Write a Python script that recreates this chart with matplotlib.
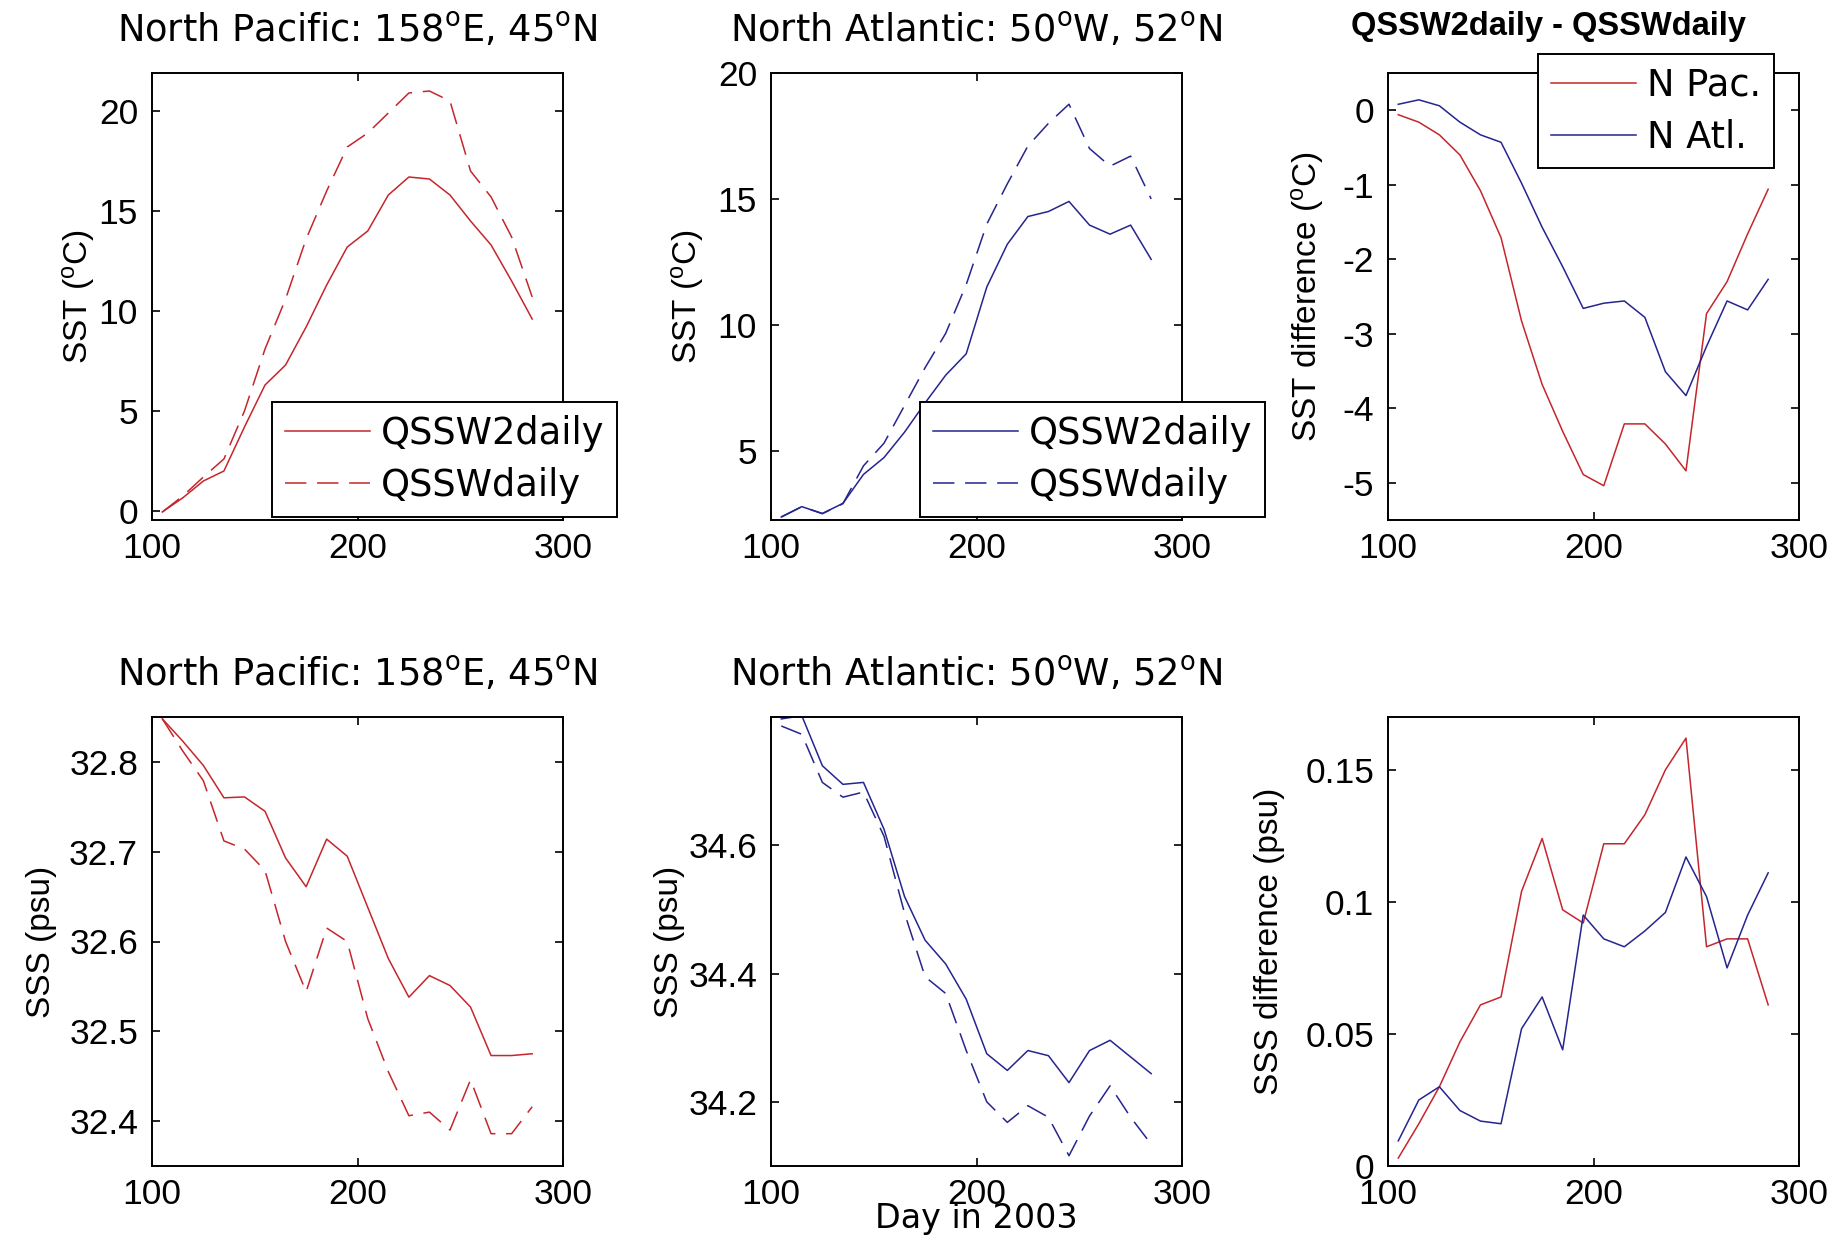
#this program redraws the QSSW2daily / QSSWdaily comparison panels
import matplotlib
matplotlib.use('Agg')
import matplotlib.pyplot as plt

plt.rcParams['font.family'] = ['Liberation Sans', 'DejaVu Sans']
plt.rcParams['mathtext.default'] = 'regular'
plt.rcParams['axes.unicode_minus'] = False

# day of year for every sample
days = [105, 115, 125, 135, 145, 155, 165, 175, 185, 195,
        205, 215, 225, 235, 245, 255, 265, 275, 285]

# North Pacific SST
pac_sst_q2 = [-0.05, 0.66, 1.5, 2.0, 4.2, 6.3, 7.3, 9.2, 11.3, 13.2,
              14.0, 15.8, 16.7, 16.6, 15.8, 14.5, 13.3, 11.5, 9.6]
pac_sst_q = [-0.05, 0.75, 1.7, 2.6, 5.0, 8.1, 10.6, 13.6, 16.0, 18.2,
             18.9, 19.9, 20.9, 21.0, 20.5, 17.0, 15.7, 13.7, 10.7]
# North Atlantic SST
atl_sst_q2 = [2.37, 2.78, 2.51, 2.91, 4.06, 4.73, 5.74, 6.9, 8.0, 8.85,
              11.5, 13.2, 14.3, 14.5, 14.9, 13.96, 13.6, 13.96, 12.6]
atl_sst_q = [2.37, 2.78, 2.5, 2.9, 4.4, 5.3, 6.8, 8.3, 9.66, 11.6,
             14.0, 15.6, 17.1, 18.0, 18.76, 17.0, 16.3, 16.7, 15.0]
# SST differences
pac_sst_diff = [-0.06, -0.16, -0.33, -0.6, -1.08, -1.71, -2.83, -3.68, -4.31, -4.89,
                -5.04, -4.21, -4.21, -4.48, -4.84, -2.73, -2.3, -1.66, -1.06]
atl_sst_diff = [0.08, 0.14, 0.06, -0.16, -0.33, -0.43, -0.98, -1.57, -2.1, -2.66,
                -2.59, -2.56, -2.78, -3.51, -3.83, -3.17, -2.56, -2.68, -2.27]
# North Pacific SSS
pac_sss_q2 = [32.848, 32.823, 32.796, 32.76, 32.761, 32.745, 32.693, 32.661, 32.714, 32.695,
              32.638, 32.581, 32.538, 32.562, 32.551, 32.527, 32.473, 32.473, 32.475]
pac_sss_q = [32.848, 32.812, 32.779, 32.712, 32.703, 32.679, 32.6, 32.544, 32.615, 32.6,
             32.514, 32.455, 32.406, 32.41, 32.39, 32.446, 32.386, 32.386, 32.416]
# North Atlantic SSS
atl_sss_q2 = [34.797, 34.802, 34.724, 34.695, 34.698, 34.625, 34.52, 34.452, 34.415, 34.36,
              34.275, 34.249, 34.28, 34.272, 34.23, 34.28, 34.296, 34.27, 34.244]
atl_sss_q = [34.786, 34.773, 34.698, 34.675, 34.683, 34.614, 34.494, 34.395, 34.369, 34.28,
             34.2, 34.168, 34.194, 34.176, 34.116, 34.178, 34.225, 34.176, 34.134]
# SSS differences
pac_sss_diff = [0.003, 0.016, 0.030, 0.047, 0.061, 0.064, 0.104, 0.124, 0.097, 0.092,
                0.122, 0.122, 0.133, 0.150, 0.162, 0.083, 0.086, 0.086, 0.061]
atl_sss_diff = [0.0095, 0.025, 0.030, 0.021, 0.017, 0.016, 0.052, 0.064, 0.044, 0.095,
                0.086, 0.083, 0.089, 0.096, 0.117, 0.102, 0.075, 0.095, 0.111]

# tick labels
x_ticks = [100, 200, 300]
x_labels = ['100', '200', '300']
pac_sst_ticks = [0, 5, 10, 15, 20]
atl_sst_ticks = [5, 10, 15, 20]
diff_sst_ticks = [-5, -4, -3, -2, -1, 0]
pac_sss_ticks = [32.4, 32.5, 32.6, 32.7, 32.8]
atl_sss_ticks = [34.2, 34.4, 34.6]
diff_sss_ticks = [0, 0.05, 0.1, 0.15]
diff_sss_labels = ['0', '0.05', '0.1', '0.15']

title_pac = 'North Pacific: 158$^{o}$E, 45$^{o}$N'
title_atl = 'North Atlantic: 50$^{o}$W, 52$^{o}$N'

red = '#c4262c'
blue = '#25258f'
dash = (0, (14, 7))
lw = 1.1
wide_font = ['DejaVu Sans']


def setup(ax, ylim, yticks, ylabels, ylabel, label_x):
    ax.set_xlim(100, 300)
    ax.set_ylim(*ylim)
    ax.set_xticks(x_ticks)
    ax.set_xticklabels(x_labels)
    ax.set_yticks(yticks)
    ax.set_yticklabels(ylabels)
    ax.tick_params(direction='in', length=6, width=1.2, top=True, right=True,
                   labelsize=25.5)
    ax.tick_params(axis='x', pad=8.5)
    ax.tick_params(axis='y', pad=10)
    for s in ax.spines.values():
        s.set_linewidth(1.4)
    ax.set_ylabel(ylabel, fontsize=24)
    ax.yaxis.set_label_coords(label_x, 0.5)


def legend(ax, anchor, loc):
    leg = ax.legend(loc=loc, bbox_to_anchor=anchor, borderaxespad=0,
                    fancybox=False, edgecolor='black', framealpha=1,
                    prop={'family': wide_font, 'size': 26.5},
                    handlelength=2.3, handletextpad=0.3, borderpad=0.35,
                    labelspacing=0.4)
    leg.get_frame().set_linewidth(1.4)
    leg.set_zorder(5)


fig = plt.figure(figsize=(18.39, 12.42), dpi=100)

W = 1839.0
H = 1242.0
lefts = [152, 771, 1388]
aw = 411
top_row = (520, 447)
bot_row = (1166, 449)


def make_axes(left, row):
    bottom, height = row
    return fig.add_axes([left / W, 1 - bottom / H, aw / W, height / H])


# top left: North Pacific SST
ax = make_axes(lefts[0], top_row)
ax.plot(days, pac_sst_q2, color=red, lw=lw, label='QSSW2daily')
ax.plot(days, pac_sst_q, color=red, lw=lw, linestyle=dash, label='QSSWdaily')
setup(ax, (-0.45, 21.9), pac_sst_ticks, [str(t) for t in pac_sst_ticks],
      'SST ($^{o}$C)', -0.134)
ax.set_title(title_pac, fontsize=26.5, family=wide_font, pad=22)
legend(ax, (0.292, 0.007), 'lower left')

# top middle: North Atlantic SST
ax = make_axes(lefts[1], top_row)
ax.plot(days, atl_sst_q2, color=blue, lw=lw, label='QSSW2daily')
ax.plot(days, atl_sst_q, color=blue, lw=lw, linestyle=dash, label='QSSWdaily')
setup(ax, (2.25, 20), atl_sst_ticks, [str(t) for t in atl_sst_ticks],
      'SST ($^{o}$C)', -0.157)
ax.set_title(title_atl, fontsize=26.5, family=wide_font, pad=22)
legend(ax, (0.3625, 0.007), 'lower left')

# top right: SST differences
ax = make_axes(lefts[2], top_row)
ax.plot(days, pac_sst_diff, color=red, lw=lw, label='N Pac.')
ax.plot(days, atl_sst_diff, color=blue, lw=lw, label='N Atl.')
setup(ax, (-5.5, 0.5), diff_sst_ticks, [str(t) for t in diff_sst_ticks],
      'SST difference ($^{o}$C)', -0.15)
legend(ax, (0.365, 1.0425), 'upper left')
fig.text(1548 / W, 1 - 26 / H, 'QSSW2daily - QSSWdaily', ha='center', va='center',
         fontsize=23.5, fontweight='bold')

# bottom left: North Pacific SSS
ax = make_axes(lefts[0], bot_row)
ax.plot(days, pac_sss_q2, color=red, lw=lw)
ax.plot(days, pac_sss_q, color=red, lw=lw, linestyle=dash)
setup(ax, (32.35, 32.85), pac_sss_ticks, [str(t) for t in pac_sss_ticks],
      'SSS (psu)', -0.231)
ax.set_title(title_pac, fontsize=26.5, family=wide_font, pad=22)

# bottom middle: North Atlantic SSS
ax = make_axes(lefts[1], bot_row)
ax.plot(days, atl_sss_q2, color=blue, lw=lw)
ax.plot(days, atl_sss_q, color=blue, lw=lw, linestyle=dash)
setup(ax, (34.1, 34.8), atl_sss_ticks, [str(t) for t in atl_sss_ticks],
      'SSS (psu)', -0.21)
ax.set_title(title_atl, fontsize=26.5, family=wide_font, pad=22)
ax.set_xlabel('Day in 2003', fontsize=24, family=wide_font)
ax.xaxis.set_label_coords(0.5, -0.081)

# bottom right: SSS differences
ax = make_axes(lefts[2], bot_row)
ax.plot(days, pac_sss_diff, color=red, lw=lw)
ax.plot(days, atl_sss_diff, color=blue, lw=lw)
setup(ax, (0, 0.17), diff_sss_ticks, diff_sss_labels,
      'SSS difference (psu)', -0.25)

fig.savefig('out.png', dpi=100)
